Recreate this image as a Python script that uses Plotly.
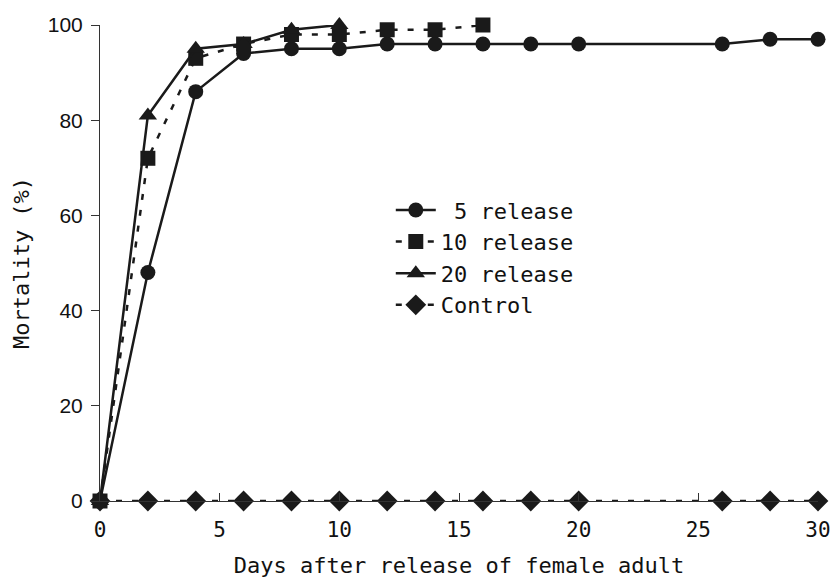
import plotly.graph_objects as go

days_long = [0, 2, 4, 6, 8, 10, 12, 14, 16, 18, 20, 26, 28, 30]
rel5 = [0, 48, 86, 94, 95, 95, 96, 96, 96, 96, 96, 96, 97, 97]
days_10 = [0, 2, 4, 6, 8, 10, 12, 14, 16]
rel10 = [0, 72, 93, 96, 98, 98, 99, 99, 100]
days_20 = [0, 2, 4, 6, 8, 10]
rel20 = [0, 81, 95, 96, 99, 100]
control = [0, 0, 0, 0, 0, 0, 0, 0, 0, 0, 0, 0, 0, 0]

C = "#1a1a1a"
FONT = "DejaVu Sans Mono"

fig = go.Figure()
fig.add_trace(go.Scatter(x=days_long, y=rel5, name="\u00a05 release", mode="lines+markers",
                         line=dict(color=C, width=2.5), marker=dict(symbol="circle", size=15, color=C),
                         cliponaxis=False))
fig.add_trace(go.Scatter(x=days_10, y=rel10, name="10 release", mode="lines+markers",
                         line=dict(color=C, width=2.5, dash="6px,10px"),
                         marker=dict(symbol="square", size=15, color=C), cliponaxis=False))
fig.add_trace(go.Scatter(x=days_20, y=rel20, name="20 release", mode="lines+markers",
                         line=dict(color=C, width=2.5), marker=dict(symbol="triangle-up", size=16, color=C),
                         cliponaxis=False))
fig.add_trace(go.Scatter(x=days_long, y=control, name="Control", mode="lines+markers",
                         line=dict(color=C, width=2.5, dash="6px,10px"),
                         marker=dict(symbol="diamond", size=16, color=C), cliponaxis=False))

fig.update_layout(
    width=833, height=582,
    margin=dict(l=100, r=15, t=25, b=81),
    paper_bgcolor="white", plot_bgcolor="white",
    font=dict(family=FONT, size=21, color="#111"),
    showlegend=True,
    legend=dict(x=0.405, y=0.655, xanchor="left", yanchor="top", bgcolor="rgba(0,0,0,0)",
                font=dict(family=FONT, size=22, color="#111"), itemwidth=40, tracegroupgap=0),
    xaxis=dict(range=[0, 30], tickvals=[0, 5, 10, 15, 20, 25, 30], ticks="inside", ticklen=8,
               tickcolor="#333", showline=True, linecolor="#333", linewidth=1, showgrid=False,
               zeroline=False, tickfont=dict(family=FONT, size=21), ticklabelstandoff=10,
               automargin=False,
               title=dict(text="Days after release of female adult", font=dict(family=FONT, size=22), standoff=16)),
    yaxis=dict(range=[0, 100], tickvals=[0, 20, 40, 60, 80, 100], ticks="outside", ticklen=8,
               tickcolor="#333", showline=True, linecolor="#333", linewidth=1, showgrid=False,
               zeroline=False, tickfont=dict(family="Liberation Sans", size=21), ticklabelstandoff=4,
               automargin=False,
               title=dict(text="Mortality (%)", font=dict(family=FONT, size=22), standoff=12)),
)

fig.write_html("out.html")
